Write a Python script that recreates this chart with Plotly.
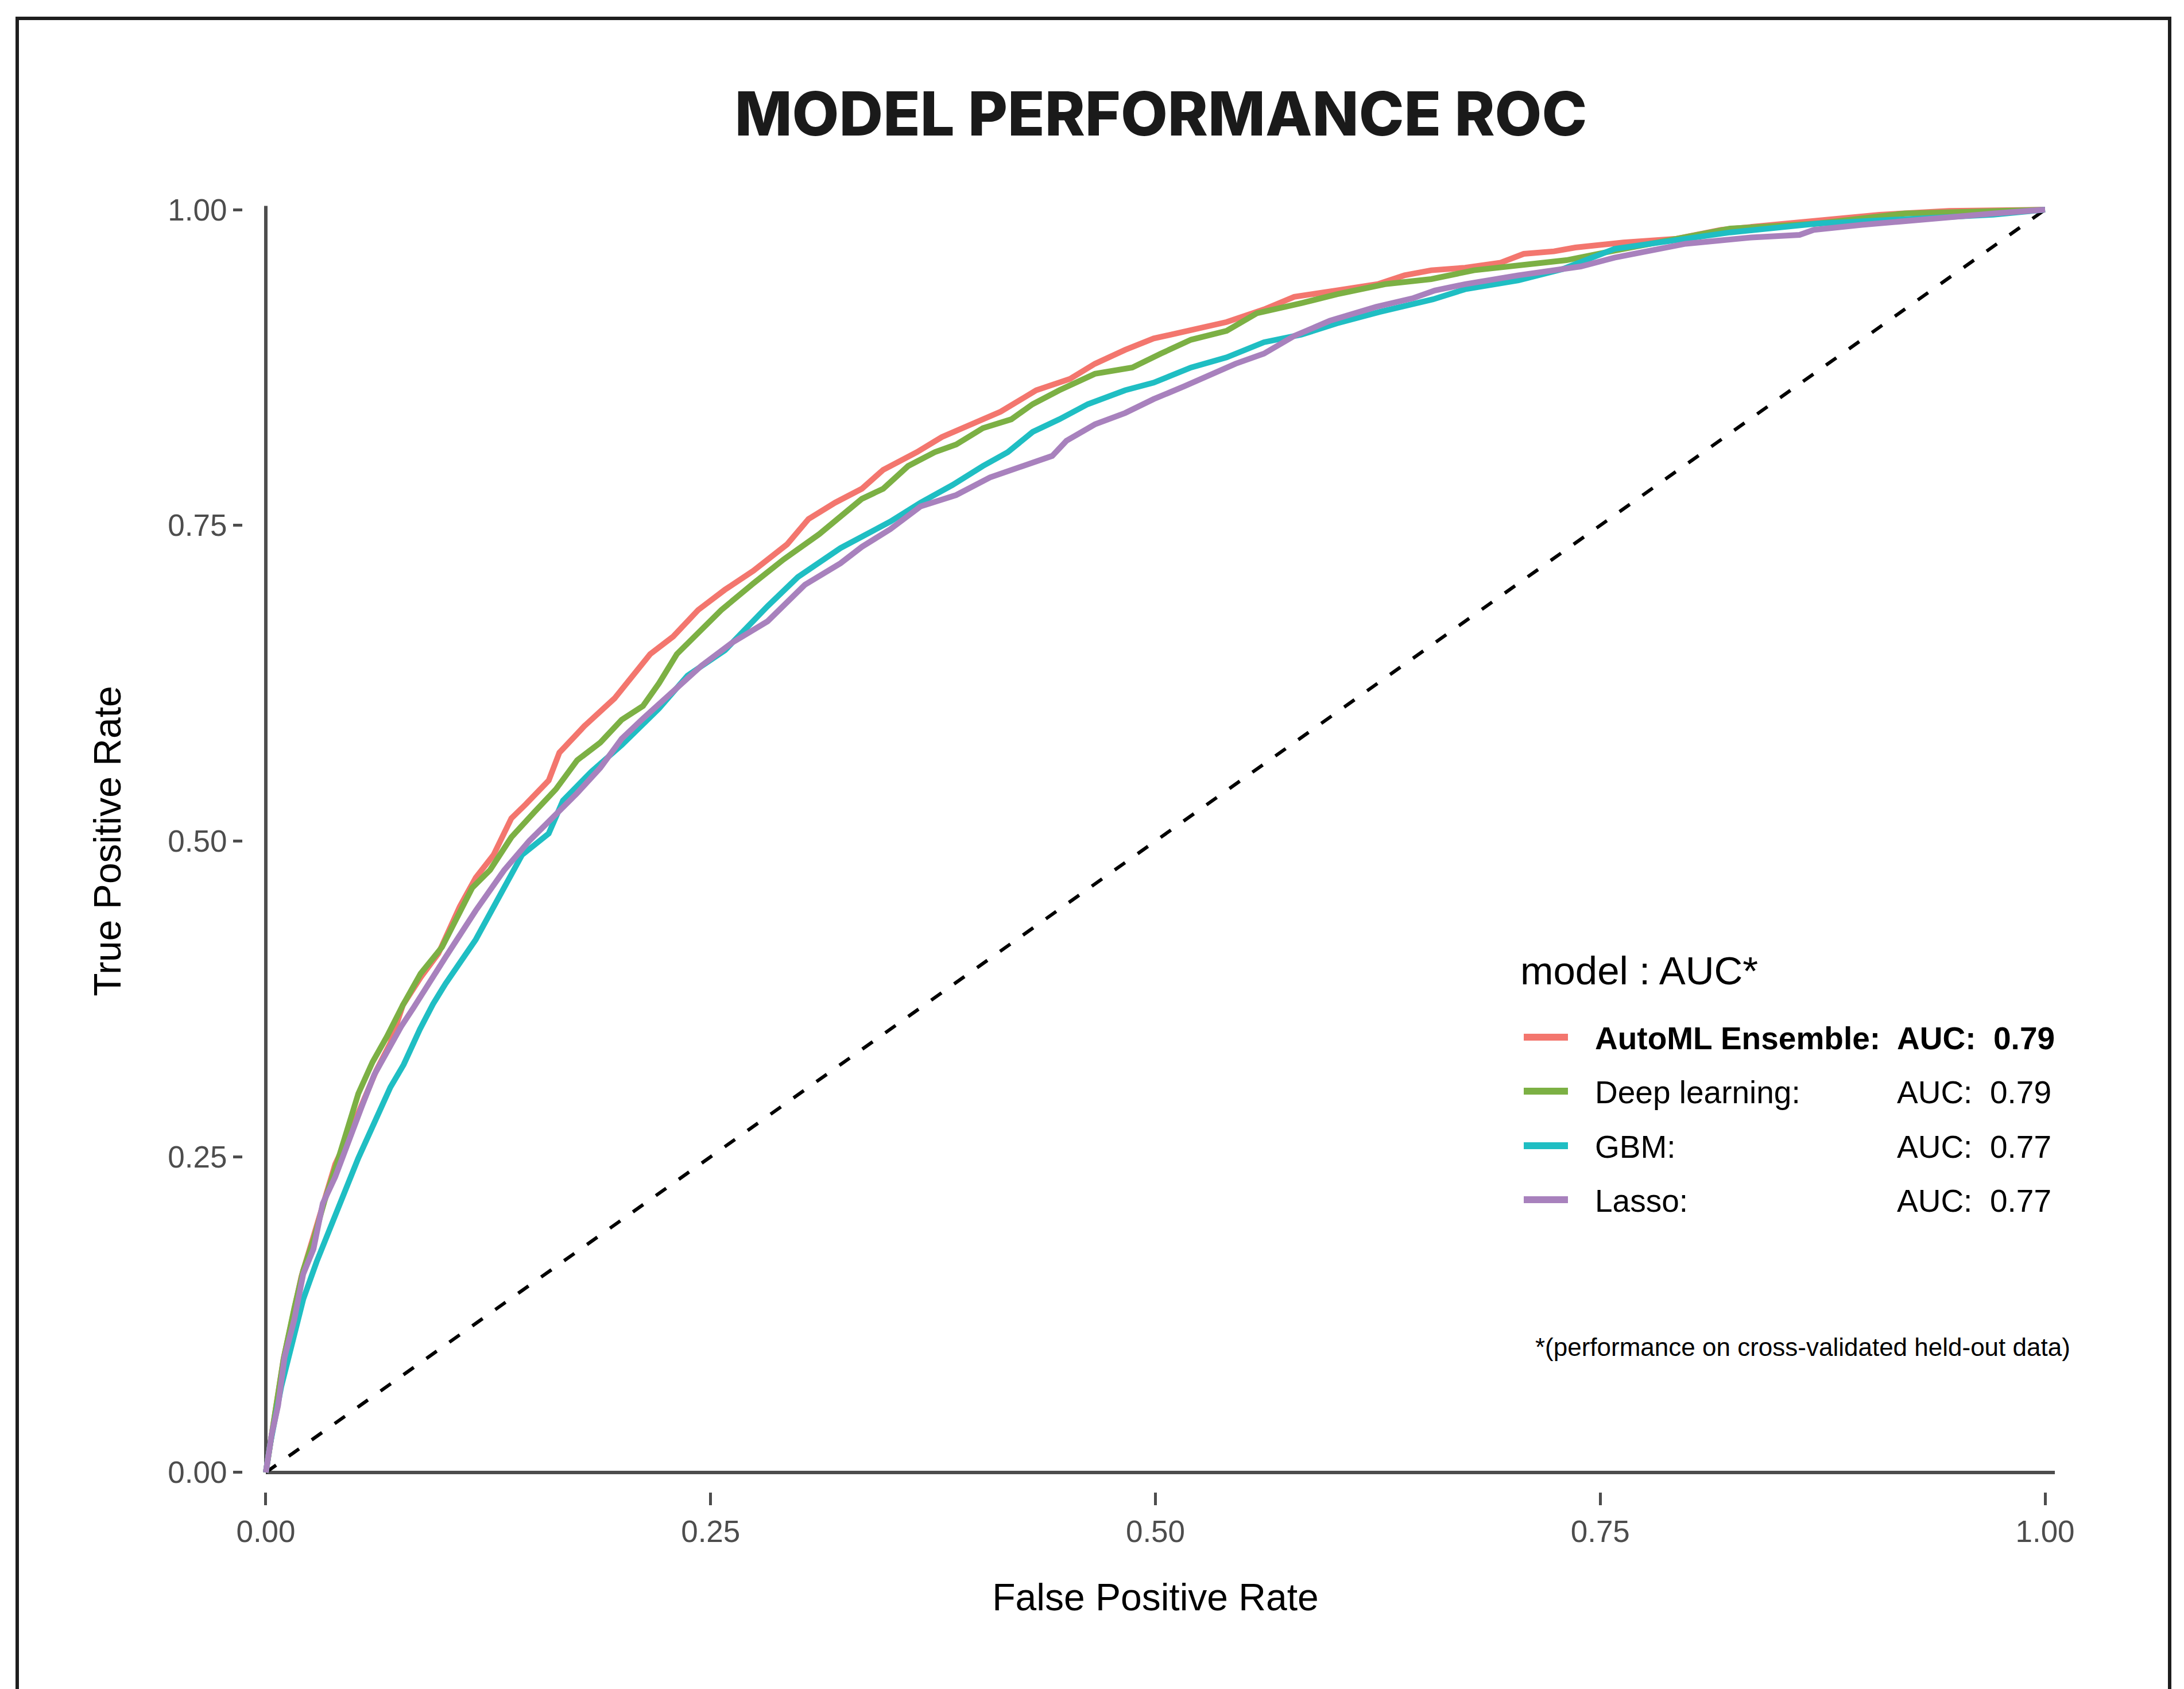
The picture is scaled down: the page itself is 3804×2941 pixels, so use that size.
import plotly.graph_objects as go

# ---------------- data ----------------
models = ["AutoML Ensemble", "Deep learning", "GBM", "Lasso"]
auc_values = [0.79, 0.79, 0.77, 0.77]
colors = ["#F3766E", "#7CB044", "#1FBEC3", "#A881BD"]

automl_fpr = [0, 0.004, 0.01, 0.02, 0.03, 0.039, 0.047, 0.055, 0.062, 0.07, 0.077, 0.087, 0.097, 0.109,
              0.118, 0.128, 0.138, 0.146, 0.159, 0.165, 0.179, 0.196, 0.206, 0.216, 0.229, 0.243, 0.258,
              0.274, 0.293, 0.305, 0.32, 0.335, 0.347, 0.366, 0.38, 0.396, 0.413, 0.433, 0.452, 0.466,
              0.483, 0.499, 0.52, 0.54, 0.561, 0.578, 0.602, 0.625, 0.64, 0.655, 0.674, 0.694, 0.707,
              0.724, 0.736, 0.763, 0.793, 0.818, 0.847, 0.872, 0.907, 0.946, 1.0]
automl_tpr = [0, 0.035, 0.09, 0.155, 0.2, 0.244, 0.268, 0.294, 0.318, 0.34, 0.37, 0.392, 0.411, 0.448,
              0.471, 0.489, 0.518, 0.529, 0.548, 0.57, 0.591, 0.613, 0.631, 0.648, 0.662, 0.683, 0.699,
              0.714, 0.735, 0.755, 0.768, 0.779, 0.794, 0.808, 0.82, 0.83, 0.84, 0.857, 0.866, 0.878,
              0.889, 0.898, 0.905, 0.911, 0.921, 0.931, 0.936, 0.941, 0.948, 0.952, 0.954, 0.958, 0.965,
              0.967, 0.97, 0.974, 0.977, 0.984, 0.988, 0.991, 0.996, 0.999, 1.0]

deep_fpr = [0, 0.004, 0.01, 0.016, 0.021, 0.027, 0.033, 0.04, 0.047, 0.052, 0.06, 0.068, 0.077, 0.087,
            0.099, 0.116, 0.126, 0.138, 0.151, 0.163, 0.175, 0.188, 0.2, 0.212, 0.221, 0.231, 0.241,
            0.256, 0.274, 0.291, 0.311, 0.321, 0.335, 0.347, 0.361, 0.376, 0.388, 0.403, 0.419, 0.431,
            0.446, 0.466, 0.487, 0.503, 0.52, 0.54, 0.557, 0.582, 0.602, 0.629, 0.655, 0.679, 0.699,
            0.731, 0.756, 0.798, 0.823, 0.872, 0.921, 1.0]
deep_tpr = [0, 0.035, 0.09, 0.13, 0.16, 0.185, 0.215, 0.245, 0.275, 0.3, 0.325, 0.345, 0.37, 0.395,
            0.416, 0.463, 0.477, 0.503, 0.523, 0.541, 0.564, 0.578, 0.596, 0.607, 0.625, 0.648, 0.662,
            0.683, 0.704, 0.723, 0.743, 0.755, 0.771, 0.779, 0.797, 0.808, 0.814, 0.827, 0.834, 0.846,
            0.857, 0.87, 0.875, 0.886, 0.897, 0.904, 0.918, 0.926, 0.933, 0.941, 0.945, 0.952, 0.955,
            0.96, 0.967, 0.979, 0.985, 0.989, 0.997, 1.0]

gbm_fpr = [0, 0.0024, 0.0087, 0.016, 0.021, 0.0286, 0.036, 0.043, 0.052, 0.061, 0.07, 0.0775, 0.0866,
           0.094, 0.101, 0.118, 0.13, 0.144, 0.159, 0.167, 0.183, 0.2, 0.221, 0.237, 0.258, 0.282, 0.299,
           0.323, 0.351, 0.368, 0.386, 0.403, 0.417, 0.431, 0.446, 0.462, 0.483, 0.499, 0.52, 0.54, 0.561,
           0.582, 0.602, 0.626, 0.656, 0.674, 0.704, 0.729, 0.758, 0.793, 0.823, 0.872, 0.921, 0.971, 1.0]
gbm_tpr = [0, 0.022, 0.068, 0.109, 0.137, 0.167, 0.193, 0.218, 0.249, 0.277, 0.305, 0.323, 0.351,
           0.371, 0.387, 0.422, 0.454, 0.489, 0.506, 0.532, 0.555, 0.576, 0.605, 0.631, 0.651, 0.686, 0.709,
           0.732, 0.753, 0.768, 0.782, 0.797, 0.808, 0.824, 0.834, 0.846, 0.857, 0.863, 0.875, 0.883, 0.895,
           0.901, 0.91, 0.919, 0.929, 0.937, 0.944, 0.953, 0.969, 0.976, 0.982, 0.989, 0.993, 0.996, 1.0]

lasso_fpr = [0, 0.0033, 0.0069, 0.0105, 0.016, 0.021, 0.0268, 0.032, 0.039, 0.0467, 0.054, 0.061, 0.068,
             0.076, 0.083, 0.089, 0.101, 0.118, 0.134, 0.148, 0.163, 0.175, 0.188, 0.2, 0.212, 0.229, 0.245,
             0.262, 0.282, 0.303, 0.323, 0.335, 0.351, 0.368, 0.388, 0.407, 0.425, 0.442, 0.45, 0.466, 0.483,
             0.499, 0.516, 0.532, 0.545, 0.561, 0.578, 0.598, 0.624, 0.645, 0.657, 0.674, 0.704, 0.739, 0.758,
             0.798, 0.835, 0.862, 0.87, 0.897, 0.934, 0.971, 1.0]
lasso_tpr = [0, 0.03, 0.053, 0.091, 0.121, 0.157, 0.177, 0.213, 0.234, 0.264, 0.29, 0.315, 0.333,
             0.353, 0.368, 0.382, 0.408, 0.445, 0.477, 0.5, 0.521, 0.538, 0.558, 0.581, 0.597, 0.619, 0.639,
             0.657, 0.674, 0.703, 0.72, 0.733, 0.747, 0.765, 0.774, 0.788, 0.797, 0.805, 0.817, 0.83, 0.839,
             0.85, 0.86, 0.87, 0.878, 0.886, 0.9, 0.912, 0.923, 0.93, 0.936, 0.941, 0.948, 0.955, 0.962,
             0.973, 0.978, 0.98, 0.984, 0.988, 0.993, 0.997, 1.0]

fpr_series = [automl_fpr, deep_fpr, gbm_fpr, lasso_fpr]
tpr_series = [automl_tpr, deep_tpr, gbm_tpr, lasso_tpr]

tick_vals = [0, 0.25, 0.5, 0.75, 1.0]
tick_text = ["0.00", "0.25", "0.50", "0.75", "1.00"]

title_text = "MODEL PERFORMANCE ROC"
x_title = "False Positive Rate"
y_title = "True Positive Rate"
legend_title = "model : AUC*"
footnote = "*(performance on cross-validated held-out data)"

# ---------------- layout geometry (pixels) ----------------
W, H = 3804, 2941
ML, MR, MT, MB = 423, 202, 331, 343
PW, PH = W - ML - MR, H - MT - MB
XR = [-0.0129, 1.0129]
YR = [-0.0155, 1.0155]


def px(X):
    return (X - ML) / PW


def py(Y):
    return (H - MB - Y) / PH


FONT = "Liberation Sans, Arial, Helvetica, sans-serif"
GREY = "#4D4D4D"

fig = go.Figure()

# diagonal reference line
fig.add_trace(go.Scatter(x=[0, 1], y=[0, 1], mode="lines",
                         line=dict(color="black", width=6, dash="22px,27px"),
                         hoverinfo="skip", showlegend=False))

for name, fx, ty, col in zip(models, fpr_series, tpr_series, colors):
    fig.add_trace(go.Scatter(x=fx, y=ty, mode="lines", name=name,
                             line=dict(color=col, width=10, shape="linear"),
                             showlegend=False))

shapes = []
# axis lines drawn inside the panel (at x=0 and y=0)
shapes.append(dict(type="line", xref="x", yref="y", x0=0, x1=1.0055, y0=0, y1=0,
                   line=dict(color=GREY, width=6), layer="below"))
shapes.append(dict(type="line", xref="x", yref="y", x0=0, x1=0, y0=0, y1=1.003,
                   line=dict(color=GREY, width=6), layer="below"))
# outer frame (bottom edge lies beyond the image)
shapes.append(dict(type="path", xref="paper", yref="paper",
                   path=f"M {px(30)} {py(2990)} L {px(30)} {py(32)} L {px(3779)} {py(32)} L {px(3779)} {py(2990)}",
                   line=dict(color="#1E1E1E", width=6)))

annotations = []
# custom legend
row_y = [1806, 1900, 1995, 2089]
for i, (name, auc, col) in enumerate(zip(models, auc_values, colors)):
    shapes.append(dict(type="line", xref="paper", yref="paper",
                       x0=px(2654), x1=px(2731), y0=py(row_y[i]), y1=py(row_y[i]),
                       line=dict(color=col, width=12)))
    label = f"{name}:"
    value = f"AUC:\u00a0\u00a0{auc:.2f}"
    if i == 0:
        label = f"<b>{label}</b>"
        value = f"<b>{value}</b>"
    annotations.append(dict(xref="paper", yref="paper", x=px(2776), y=py(row_y[i] + 2),
                            xanchor="left", yanchor="middle", showarrow=False, text=label,
                            font=dict(family=FONT, size=55, color="black")))
    annotations.append(dict(xref="paper", yref="paper", x=px(3302), y=py(row_y[i] + 2),
                            xanchor="left", yanchor="middle", showarrow=False, text=value,
                            font=dict(family=FONT, size=55, color="black")))

annotations.append(dict(xref="paper", yref="paper", x=px(2646), y=py(1690),
                        xanchor="left", yanchor="middle", showarrow=False, text=legend_title,
                        font=dict(family=FONT, size=69, color="black")))
annotations.append(dict(xref="paper", yref="paper", x=px(2672), y=py(2345),
                        xanchor="left", yanchor="middle", showarrow=False, text=footnote,
                        font=dict(family=FONT, size=44, color="black")))

fig.update_layout(
    width=W, height=H,
    margin=dict(l=ML, r=MR, t=MT, b=MB, autoexpand=False),
    paper_bgcolor="white", plot_bgcolor="white",
    showlegend=False,
    hovermode=False,
    title=dict(text=title_text, x=px(2022), xref="paper", xanchor="center",
               y=1 - 199 / H, yref="container", yanchor="middle",
               font=dict(family="Inter, Lato, sans-serif", size=106, color="#1A1A1A", weight=800)),
    xaxis=dict(range=XR, showgrid=False, zeroline=False, showline=False,
               tickmode="array", tickvals=tick_vals, ticktext=tick_text,
               ticks="outside", ticklen=22, tickwidth=5, tickcolor=GREY,
               tickfont=dict(family=FONT, size=53, color=GREY),
               title=dict(text=x_title, standoff=63, font=dict(family=FONT, size=66, color="black")),
               automargin=False, fixedrange=True),
    yaxis=dict(range=YR, showgrid=False, zeroline=False, showline=False,
               tickmode="array", tickvals=tick_vals, ticktext=tick_text,
               ticks="outside", ticklen=16, tickwidth=5, tickcolor=GREY,
               tickfont=dict(family=FONT, size=53, color=GREY),
               title=dict(text=y_title, standoff=60, font=dict(family=FONT, size=66, color="black")),
               automargin=False, fixedrange=True),
    shapes=shapes,
    annotations=annotations,
)

fig.write_html("out.html", config=dict(displayModeBar=False, staticPlot=True),
               post_script="document.body.style.margin='0px';document.body.style.overflow='hidden';")
